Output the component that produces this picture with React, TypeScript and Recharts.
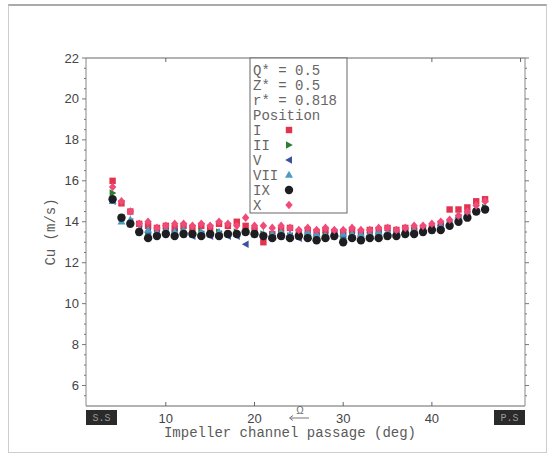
import React from "react";
import { ScatterChart, Scatter, XAxis, YAxis } from "recharts";

const DEG = [4,5,6,7,8,9,10,11,12,13,14,15,16,17,18,19,20,21,22,23,24,25,26,27,28,29,30,31,32,33,34,35,36,37,38,39,40,41,42,43,44,45,46];

const POS_I = [16.0,14.9,14.5,13.9,13.8,13.7,13.8,13.7,13.8,13.7,13.8,13.7,13.9,13.8,14.0,13.8,13.6,13.0,13.4,13.6,13.7,13.5,13.6,13.5,13.6,13.5,13.5,13.6,13.5,13.6,13.6,13.7,13.6,13.7,13.6,13.7,13.7,13.9,14.6,14.6,14.7,15.0,15.1];
const POS_II = [15.4,14.2,13.9,13.5,13.4,13.4,13.5,13.4,13.5,13.4,13.5,13.4,13.5,13.4,13.5,13.5,13.4,13.4,13.3,13.4,13.3,13.3,13.3,13.2,13.3,13.3,13.2,13.3,13.2,13.3,13.3,13.3,13.4,13.4,13.5,13.5,13.6,13.7,13.9,14.1,14.3,14.5,14.7];
const POS_V = [15.0,14.2,14.0,13.6,13.5,13.4,13.5,13.5,13.4,13.3,13.4,13.3,13.4,13.3,13.3,12.9,13.4,13.3,13.3,13.3,13.3,13.2,13.3,13.3,13.3,13.4,13.3,13.3,13.3,13.3,13.4,13.4,13.4,13.5,13.5,13.6,13.6,13.8,13.9,14.2,14.3,14.5,14.6];
const POS_VII = [15.0,14.0,14.1,13.6,13.6,13.5,13.6,13.5,13.6,13.5,13.5,13.4,13.5,13.4,13.4,13.5,13.5,13.4,13.4,13.5,13.4,13.4,13.5,13.4,13.3,13.4,13.4,13.4,13.4,13.4,13.5,13.5,13.5,13.5,13.6,13.6,13.7,13.8,14.0,14.3,14.4,14.6,14.7];
const POS_IX = [15.1,14.2,13.9,13.5,13.2,13.3,13.4,13.3,13.4,13.4,13.3,13.4,13.3,13.4,13.4,13.5,13.4,13.3,13.2,13.3,13.2,13.3,13.2,13.1,13.2,13.3,13.0,13.2,13.1,13.2,13.2,13.3,13.3,13.4,13.4,13.5,13.6,13.6,13.8,14.0,14.2,14.5,14.6];
const POS_X = [15.7,15.0,14.5,13.9,14.0,13.7,13.8,13.9,13.9,13.8,13.9,13.8,14.0,13.9,13.8,14.2,13.8,13.8,13.7,13.8,13.7,13.6,13.7,13.6,13.7,13.6,13.6,13.7,13.6,13.6,13.7,13.7,13.6,13.7,13.8,13.8,13.9,14.0,14.1,14.3,14.5,14.8,15.0];

const X_TICKS = [1, 10, 20, 30, 40, 50.5];
const X_LABELS: Record<string, string> = { "1": "S.S", "10": "10", "20": "20", "30": "30", "40": "40", "50.5": "P.S" };
const Y_MAJOR = [6, 8, 10, 12, 14, 16, 18, 20, 22];
const PARAMS = ["Q* = 0.5", "Z* = 0.5", "r* = 0.818", "Position"];
const NAMES = ["I", "II", "V", "VII", "IX", "X"];
const COLORS = ["#e3344f", "#2f7d34", "#3d4fa0", "#4a9cc0", "#1e1e22", "#f04a78"];

const Y_MINOR: number[] = [];
for (let v = 5.5; v <= 22.001; v += 0.5) Y_MINOR.push(Math.round(v * 10) / 10);

const W = 555, H = 458;
const PL = 86, PR = 525, PT = 58, PB = 406;
const MONO = "'Liberation Mono', 'DejaVu Sans Mono', monospace";
const SANS = "'Liberation Sans', Arial, sans-serif";

const mk = (vals: number[]) => DEG.map((d, i) => ({ x: d, y: vals[i] }));
const SERIES = [POS_I, POS_II, POS_V, POS_VII, POS_IX, POS_X].map(mk);

function Marker({ kind, cx, cy, color }: { kind: number; cx: number; cy: number; color: string }) {
  switch (kind) {
    case 0:
      return <rect x={cx - 3.2} y={cy - 3.2} width={6.4} height={6.4} fill={color} />;
    case 1:
      return <polygon points={`${cx - 3},${cy - 3.8} ${cx + 3.8},${cy} ${cx - 3},${cy + 3.8}`} fill={color} />;
    case 2:
      return <polygon points={`${cx + 3},${cy - 3.8} ${cx - 3.8},${cy} ${cx + 3},${cy + 3.8}`} fill={color} />;
    case 3:
      return <polygon points={`${cx},${cy - 4.2} ${cx + 4},${cy + 2.8} ${cx - 4},${cy + 2.8}`} fill={color} />;
    case 4:
      return <circle cx={cx} cy={cy} r={4.2} fill={color} />;
    default:
      return <polygon points={`${cx},${cy - 4.3} ${cx + 3.7},${cy} ${cx},${cy + 4.3} ${cx - 3.7},${cy}`} fill={color} />;
  }
}

const shapeFor = (k: number) => (p: any) => <Marker kind={k} cx={p.cx} cy={p.cy} color={COLORS[k]} />;

const BottomTick = (p: any) => {
  const v = p.payload.value;
  const x = p.x;
  const lab = X_LABELS[String(v)];
  if (v === X_TICKS[0] || v === X_TICKS[X_TICKS.length - 1]) {
    const left = v === X_TICKS[0] ? x : x - 31;
    return (
      <g>
        <rect x={left} y={PB + 4} width={31} height={15} fill="#2a2a2a" />
        <text x={left + 15.5} y={PB + 15} textAnchor="middle" fontSize={10} fontFamily={MONO} fill="#9a9a9a">{lab}</text>
      </g>
    );
  }
  return (
    <g>
      <line x1={x} x2={x} y1={PB} y2={PB - 4} stroke="#666" />
      <text x={x} y={PB + 17} textAnchor="middle" fontSize={13} fontFamily={SANS} fill="#444">{lab}</text>
    </g>
  );
};

const TopTick = (p: any) => <line x1={p.x} x2={p.x} y1={PT} y2={PT + 4} stroke="#666" />;

const LeftTick = (p: any) => {
  const v = p.payload.value;
  const y = p.y;
  const major = Y_MAJOR.includes(v);
  return (
    <g>
      <line x1={PL - (major ? 4 : 2)} x2={PL} y1={y} y2={y} stroke="#777" />
      {major && (
        <text x={PL - 7} y={y} dy="0.35em" textAnchor="end" fontSize={13} fontFamily={SANS} fill="#444">{v}</text>
      )}
    </g>
  );
};

const RightTick = (p: any) => {
  const v = p.payload.value;
  const y = p.y;
  const major = Y_MAJOR.includes(v);
  return <line x1={PR} x2={PR + (major ? 4 : 2)} y1={y} y2={y} stroke="#777" />;
};

export default function App() {
  const lx = 250, ly = PT, lw = 97, lh = 155;
  return (
    <div style={{ position: "absolute", left: 0, top: 0, width: W, height: H, background: "#fff" }}>
      <div style={{ position: "absolute", left: 8, top: 4, width: 537, height: 446, border: "1px solid #cdcdcd", borderTop: "2px solid #aaa" }} />
      <div style={{ position: "absolute", left: 0, top: 0 }}>
        <ScatterChart width={W} height={H} margin={{ top: PT - 1, right: W - PR - 1, bottom: H - PB - 40, left: PL - 40 }}>
          <XAxis
            xAxisId="b"
            type="number"
            dataKey="x"
            domain={[1, 50.5]}
            ticks={X_TICKS}
            height={40}
            stroke="#666"
            tickLine={false}
            tick={BottomTick}
            interval={0}
            allowDataOverflow
          />
          <XAxis
            xAxisId="t"
            orientation="top"
            type="number"
            dataKey="x"
            domain={[1, 50.5]}
            ticks={[10, 20, 30, 40, 50]}
            height={1}
            stroke="#666"
            tickLine={false}
            tick={TopTick}
            interval={0}
            allowDataOverflow
          />
          <YAxis
            yAxisId="l"
            type="number"
            dataKey="y"
            domain={[5, 22]}
            ticks={Y_MINOR}
            width={40}
            stroke="#888"
            tickLine={false}
            tick={LeftTick}
            interval={0}
            allowDataOverflow
          />
          <YAxis
            yAxisId="r"
            orientation="right"
            type="number"
            dataKey="y"
            domain={[5, 22]}
            ticks={Y_MINOR}
            width={1}
            stroke="#888"
            tickLine={false}
            tick={RightTick}
            interval={0}
            allowDataOverflow
          />
          {SERIES.map((d, k) => (
            <Scatter
              key={NAMES[k]}
              name={NAMES[k]}
              data={d}
              xAxisId="b"
              yAxisId="l"
              fill={COLORS[k]}
              shape={shapeFor(k)}
              isAnimationActive={false}
            />
          ))}
        </ScatterChart>
      </div>
      <svg width={W} height={H} style={{ position: "absolute", left: 0, top: 0, pointerEvents: "none" }}>
        <text x={50} y={232} transform="rotate(-90 50 232)" textAnchor="middle" dy="0.35em" fontSize={14} fontFamily={MONO} fill="#5a5a5a">Cu (m/s)</text>
        <text x={290} y={437} textAnchor="middle" fontSize={14} fontFamily={MONO} fill="#5a5a5a">Impeller channel passage (deg)</text>
        <g>
          <text x={300} y={414} textAnchor="middle" fontSize={10} fontFamily={SANS} fill="#666">Ω</text>
          <line x1={290} x2={309} y1={418} y2={418} stroke="#777" strokeWidth={1} />
          <polyline points="293,415.5 289.5,418 293,420.5" fill="none" stroke="#777" strokeWidth={1} />
        </g>
        <rect x={lx} y={ly} width={lw} height={lh} fill="#fff" stroke="#666" strokeWidth={1} />
        {PARAMS.map((t, i) => (
          <text key={t} x={lx + 3} y={ly + 16.5 + i * 15} fontSize={14} fontFamily={MONO} fill="#666">{t}</text>
        ))}
        {NAMES.map((t, i) => (
          <g key={t}>
            <text x={lx + 3} y={ly + 16.5 + (i + 4) * 15} fontSize={14} fontFamily={MONO} fill="#666">{t}</text>
            <Marker kind={i} cx={289} cy={ly + 12 + (i + 4) * 15} color={COLORS[i]} />
          </g>
        ))}
      </svg>
    </div>
  );
}
